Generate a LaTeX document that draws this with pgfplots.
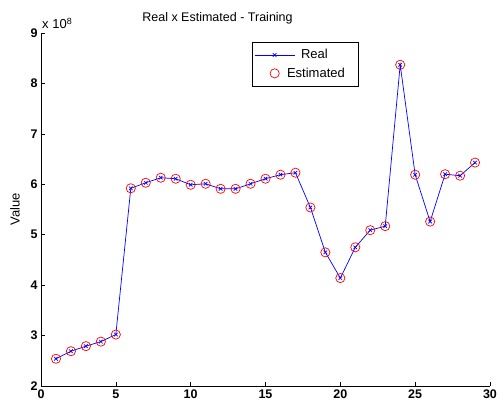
\documentclass[border=0pt]{standalone}
\usepackage{pgfplots}
\pgfplotsset{compat=1.18}
\usepackage{fontspec}
\setmainfont{Liberation Sans}
\newcommand{\fs}{\fontsize{13pt}{15pt}\selectfont}
\newcommand{\ft}{\fontsize{12.5pt}{15pt}\selectfont}
\pgfplotsset{
  realimg/.style={legend image code/.code={\path[draw=none] (0pt,0pt) -- (40pt,0pt);\draw[mark repeat=2,mark phase=2,##1] plot coordinates {(0pt,0pt)(20pt,0pt)(40pt,0pt)};}},
  estimg/.style={legend image code/.code={\path[draw=none] (0pt,0pt) -- (40pt,0pt);\draw[##1] plot coordinates {(20pt,0pt)};}},
}
\begin{document}
\fs
\begin{tikzpicture}[x=1pt,y=1pt]
\useasboundingbox (-41,-17) rectangle (458,386);
\begin{axis}[
  at={(0,0)}, anchor=origin,
  scale only axis, width=449pt, height=353pt,
  xmin=0, xmax=30, ymin=2, ymax=9,
  xtick={0,5,...,30}, ytick={2,3,...,9},
  axis x line*=bottom, axis y line*=left,
  axis line style={-, line width=0.6pt},
  tick style={black, line width=0.6pt},
  major tick length=4pt,
  tick align=inside,
  /pgf/number format/assume math mode=true,
  ticklabel style={font=\ft\bfseries},
  xticklabel style={yshift=1pt},
  yticklabel style={xshift=1pt},
  clip=false,
  legend style={at={(0.470,0.9745)}, anchor=north west, draw=black, line width=0.6pt,
    font=\fs, inner xsep=2pt, inner ysep=5pt, row sep=3pt,
    cells={anchor=west}},
  legend cell align=left,
]
\addplot[blue, line width=0.7pt, mark=x, mark size=2.5pt, mark options={line width=0.7pt}, realimg] coordinates {
(1,2.54)(2,2.69)(3,2.79)(4,2.88)(5,3.02)(6,5.92)(7,6.03)(8,6.13)(9,6.11)(10,5.99)
(11,6.01)(12,5.91)(13,5.91)(14,6.01)(15,6.11)(16,6.19)(17,6.23)(18,5.54)(19,4.65)(20,4.14)
(21,4.75)(22,5.09)(23,5.17)(24,8.37)(25,6.19)(26,5.26)(27,6.20)(28,6.17)(29,6.43)};
\addlegendentry{\hspace*{4pt}Real}
\addplot[only marks, red, mark=o, mark size=4.6pt, mark options={line width=0.7pt}, estimg] coordinates {
(1,2.54)(2,2.69)(3,2.79)(4,2.88)(5,3.02)(6,5.92)(7,6.03)(8,6.13)(9,6.11)(10,5.99)
(11,6.01)(12,5.91)(13,5.91)(14,6.01)(15,6.11)(16,6.19)(17,6.23)(18,5.54)(19,4.65)(20,4.14)
(21,4.75)(22,5.09)(23,5.17)(24,8.37)(25,6.19)(26,5.26)(27,6.20)(28,6.17)(29,6.43)};
\addlegendentry{\hspace*{-10pt}Estimated\hspace*{9pt}}
\end{axis}
\node[font=\ft] at (176.5,368) {Real x Estimated - Training};
\node[anchor=west, font=\fs, inner sep=0pt] at (1,363) {x 10\raisebox{0.6ex}{\fontsize{9pt}{10pt}\selectfont 8}};
\node[rotate=90, font=\fs] at (-26,177) {Value};
\end{tikzpicture}
\end{document}
